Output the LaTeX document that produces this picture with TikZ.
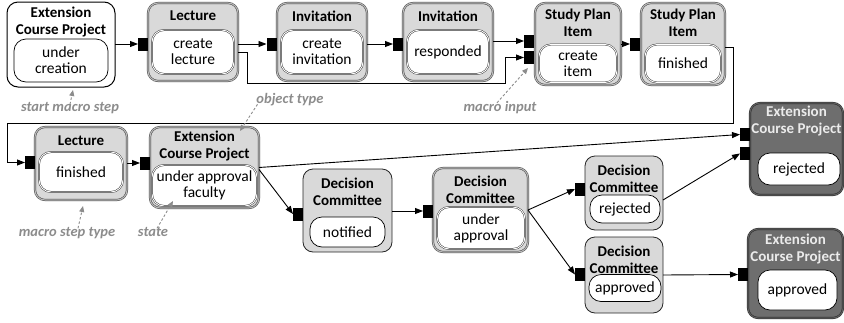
\documentclass[tikz,border=0pt]{standalone}
\usepackage{fontspec}
\setmainfont{Carlito}
\usetikzlibrary{arrows.meta,calc}
\definecolor{boxgray}{HTML}{D9D9D9}
\definecolor{darkbox}{HTML}{6E6E6E}
\definecolor{notegray}{HTML}{8C8C8C}
\begin{document}
\begin{tikzpicture}[x=1pt,y=-1pt,
  every node/.style={inner sep=0pt,outer sep=0pt},
  stepbox/.style={draw=black!85,line width=0.8pt,rounded corners=10pt,fill=boxgray},
  dblbox/.style={stepbox,draw=black!75,double=boxgray!85!black,double distance=1.1pt,line width=0.5pt},
  startbox/.style={draw=black,line width=1pt,rounded corners=11pt,fill=white},
  endbox/.style={draw=black!85,line width=0.5pt,double=darkbox!85!black,double distance=1.1pt,rounded corners=10pt,fill=darkbox},
  statebox/.style={draw=black,line width=0.7pt,rounded corners=12pt,fill=white,align=center,
    font=\fontsize{15.5}{16}\selectfont},
  dblstate/.style={statebox,draw=black!80,double=white,double distance=0.9pt,line width=0.45pt},
  title/.style={align=center,font=\fontsize{15}{17}\selectfont\bfseries},
  darktitle/.style={title,text=white!92!black},
  port/.style={fill=black,minimum width=10pt,minimum height=13pt},
  arr/.style={-{Triangle[length=8pt,width=6pt]},line width=0.9pt},
  note/.style={text=notegray,font=\fontsize{14.5}{16}\selectfont\bfseries\itshape},
  notearr/.style={-{Triangle[length=6pt,width=5pt]},draw=notegray,line width=0.9pt,dash pattern=on 2.5pt off 2pt}
]
\useasboundingbox (0,0) rectangle (844,322);

% ---------- first row ----------
\node[startbox,minimum width=108pt,minimum height=85pt] (b1) at (61,44.5) {};
\node[title] (b1t) at (61,22.5) {Extension\\Course Project};
\node[statebox,minimum width=94pt,minimum height=43pt] (b1s) at (61,60.5) {under\\creation};

\node[dblbox,minimum width=90pt,minimum height=78pt] (b2) at (193,42) {};
\node[title] (b2t) at (193,16) {Lecture};
\node[dblstate,minimum width=82pt,minimum height=44pt] (b2s) at (193,52) {create\\lecture};

\node[dblbox,minimum width=90pt,minimum height=78pt] (b3) at (322,42) {};
\node[title] (b3t) at (322,16) {Invitation};
\node[dblstate,minimum width=82pt,minimum height=44pt] (b3s) at (322,52) {create\\invitation};

\node[dblbox,minimum width=90pt,minimum height=78pt] (b4) at (448,42) {};
\node[title] (b4t) at (448,16) {Invitation};
\node[dblstate,minimum width=82pt,minimum height=44pt] (b4s) at (448,52) {responded};

\node[dblbox,minimum width=86pt,minimum height=82pt] (b5) at (578,44) {};
\node[title] (b5t) at (578,22.5) {Study Plan\\Item};
\node[dblstate,minimum width=78pt,minimum height=38pt] (b5s) at (578,63.5) {create\\item};

\node[dblbox,minimum width=84pt,minimum height=82pt] (b6) at (683,44) {};
\node[title] (b6t) at (683,22.5) {Study Plan\\Item};
\node[dblstate,minimum width=76pt,minimum height=38pt] (b6s) at (683,63.5) {finished};

\node[port] (p2) at (143,44) {};
\node[port] (p3) at (271.5,44) {};
\node[port] (p4) at (398,44) {};
\node[port] (p5a) at (529,41) {};
\node[port] (p5b) at (529,57.5) {};
\node[port] (p6) at (635,44) {};

% ---------- second row ----------
\node[dblbox,minimum width=92pt,minimum height=73pt] (b7) at (81,163.5) {};
\node[title] (b7t) at (81,141) {Lecture};
\node[dblstate,minimum width=84pt,minimum height=40pt] (b7s) at (81,172) {finished};

\node[dblbox,minimum width=109pt,minimum height=81pt] (b8) at (204.5,167.5) {};
\node[title] (b8t) at (204.5,146) {Extension\\Course Project};
\node[dblstate,minimum width=105pt,minimum height=41pt] (b8s) at (204.5,185.5) {under approval\\faculty};

\node[stepbox,minimum width=89pt,minimum height=83pt] (b9) at (347.5,210.5) {};
\node[title] (b9t) at (347.5,192) {Decision\\Committee};
\node[statebox,minimum width=75pt,minimum height=30pt] (b9s) at (347.5,232) {notified};

\node[dblbox,minimum width=95pt,minimum height=84pt] (b10) at (480.5,210) {};
\node[title] (b10t) at (480.5,190) {Decision\\Committee};
\node[dblstate,minimum width=88pt,minimum height=42pt] (b10s) at (481,228) {under\\approval};

\node[stepbox,minimum width=78pt,minimum height=74pt] (b11) at (624,193) {};
\node[title] (b11t) at (624,179) {Decision\\Committee};
\node[statebox,minimum width=70pt,minimum height=28pt] (b11s) at (625,209) {rejected};

\node[stepbox,minimum width=78pt,minimum height=76pt] (b12) at (624,275) {};
\node[title] (b12t) at (624,259.5) {Decision\\Committee};
\node[statebox,minimum width=72pt,minimum height=27pt] (b12s) at (625,288) {approved};

\node[endbox,minimum width=93pt,minimum height=92pt] (b13) at (796.5,149) {};
\node[darktitle] (b13t) at (796.5,121.5) {Extension\\Course Project};
\node[statebox,minimum width=82pt,minimum height=32pt] (b13s) at (799,169) {rejected};

\node[endbox,minimum width=95pt,minimum height=89pt] (b14) at (795.5,273.5) {};
\node[darktitle] (b14t) at (795.5,248.5) {Extension\\Course Project};
\node[statebox,minimum width=79pt,minimum height=40pt] (b14s) at (797.5,290) {approved};

\node[port] (p7) at (30,162.5) {};
\node[port] (p8) at (145,163) {};
\node[port] (p9) at (298,214) {};
\node[port] (p10) at (428,211) {};
\node[port] (p11) at (580,189) {};
\node[port] (p12) at (580,274.5) {};
\node[port] (p13a) at (745,134.5) {};
\node[port] (p13b) at (745,153.5) {};
\node[port] (p14) at (743,274.5) {};

% ---------- connectors ----------
\draw[arr] (b1.east |- p2) -- (p2.west);
\draw[arr] (b2.east |- p3) -- (p3.west);
\draw[arr] (b3.east |- p4) -- (p4.west);
\draw[arr] (b4.east |- p5a) -- (p5a.west);
\draw[arr] (b5.east |- p6) -- (p6.west);
\draw[arr] ($(b2.east)+(0,10)$) -- (247,52) -- (247,83) -- (505,83) |- (p5b.west);
\draw[arr] ($(b6.east)+(0,3)$) -- (733,47) -- (733,123) -- (7,123) |- (p7.west);

\draw[arr] (b7.east |- p8) -- (p8.west);
\draw[arr] (b8.east) -- (p13a.west);
\draw[arr] ($(b8.east)+(0,2)$) -- (p9.west);
\draw[arr] (b9.east |- p10) -- (p10.west);
\draw[arr] (b10.east) -- (p11.west);
\draw[arr] (b10.east) -- (p12.west);
\draw[arr] ($(b11.east)+(0,7)$) -- (p13b.west);
\draw[arr] (b12.east) -- (p14.west);

% ---------- annotations ----------
\node[note] (n1) at (70,108) {start macro step};
\node[note] (n2) at (290,100) {object type};
\node[note] (n3) at (500,108) {macro input};
\node[note] (n4) at (67,233) {macro step type};
\node[note] (n5) at (153,232) {state};

\draw[notearr] ($(n1.north)+(0,2)$) -- (73,90);
\draw[notearr] ($(n2.south west)+(1,-2)$) -- (240,131);
\draw[notearr] ($(n3.north)+(-3,1)$) -- (528,68);
\draw[notearr] ($(n4.north)+(11,1)$) -- (83,206);
\draw[notearr] ($(n5.north)+(4,1)$) -- (173,201);
\end{tikzpicture}
\end{document}
